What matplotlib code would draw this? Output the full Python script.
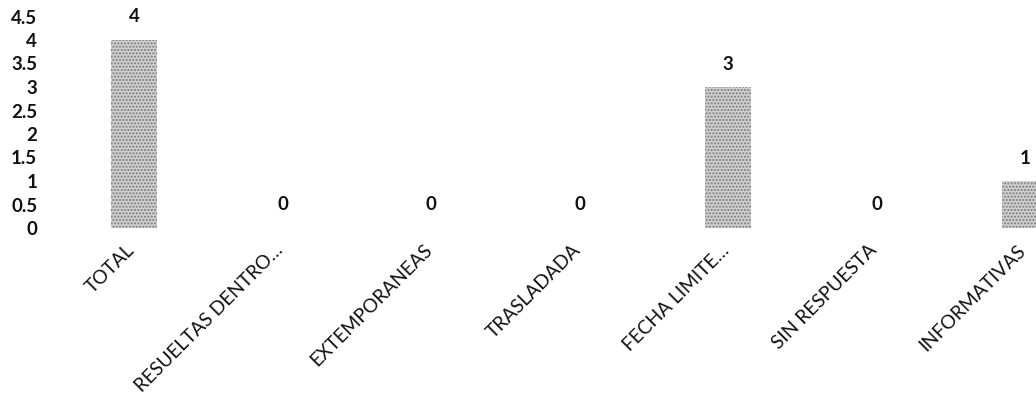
import matplotlib
matplotlib.use("Agg")
import matplotlib.pyplot as plt
from matplotlib.transforms import ScaledTranslation

categories = ["TOTAL", "RESUELTAS DENTRO…", "EXTEMPORANEAS", "TRASLADADA",
              "FECHA LIMITE…", "SIN RESPUESTA", "INFORMATIVAS"]
values = [4, 0, 0, 0, 3, 0, 1]
yticks = [0, 0.5, 1, 1.5, 2, 2.5, 3, 3.5, 4, 4.5]
ytick_labels = ["0", "0.5", "1", "1.5", "2", "2.5", "3", "3.5", "4", "4.5"]

plt.rcParams['font.family'] = ['Lato', 'DejaVu Sans']
plt.rcParams['hatch.linewidth'] = 1.0

W, H = 1036, 400
fig = plt.figure(figsize=(W / 100, H / 100), dpi=100)
left_px = 40
base_px = 228       # y of zero from top
top_px = 16.5       # y of 4.5 from top
ax = fig.add_axes([left_px / W, (H - base_px) / H, 1 - left_px / W, (base_px - top_px) / H])

step = 148.5
x0 = 134
ax.set_xlim(-(x0 - left_px) / step, 6 + (W - (x0 + 6 * step)) / step)
ax.set_ylim(0, 4.5)

x = list(range(len(categories)))
bars = ax.bar(x, values, width=0.305, color='#d0d0d0', edgecolor='#7a7a7a',
              hatch='.....', linewidth=0)

for xi, v in zip(x, values):
    ax.annotate(str(v), (xi, v), xytext=(0, 23), textcoords='offset pixels',
                ha='center', va='center', fontsize=13.5, fontweight='bold', color='#111111')

for s in ax.spines.values():
    s.set_visible(False)
ax.set_yticks(yticks)
ax.set_yticklabels(ytick_labels, fontsize=13.5, fontweight='bold', color='#111111')
ax.tick_params(axis='y', length=0, pad=2)
ax.set_xticks(x)
ax.set_xticklabels(categories, rotation=45, ha='right', va='center',
                   rotation_mode='anchor', fontsize=13.8, color='#111111')
ax.tick_params(axis='x', length=0, pad=14)
shift = ScaledTranslation(-0.02, 0.0, fig.dpi_scale_trans)
for lbl in ax.get_xticklabels():
    lbl.set_transform(lbl.get_transform() + shift)

fig.savefig("out.png", dpi=100, facecolor='white')
